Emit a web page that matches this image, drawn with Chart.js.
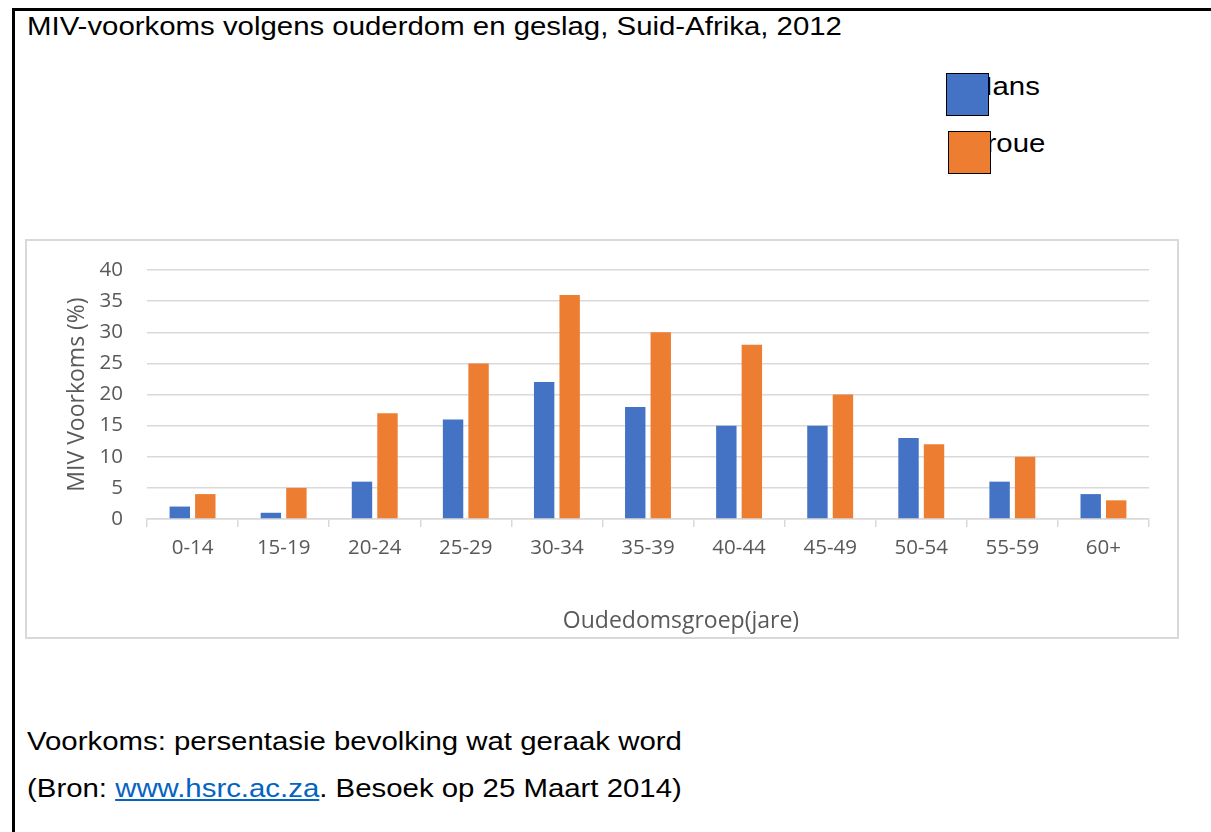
<!DOCTYPE html>
<html lang="af">
<head>
<meta charset="UTF-8">
<title>MIV-voorkoms volgens ouderdom en geslag</title>
<script src="https://cdn.jsdelivr.net/npm/chart.js"></script>
<style>
    body { margin: 0; background: #fff; font-family: "Liberation Sans", Arial, sans-serif; }
    #frame { position: absolute; left: 12px; top: 8px; width: 1300px; height: 900px;
             border-left: 3px solid #000; border-top: 3px solid #000; }
    .txt { position: absolute; font-size: 26px; color: #000; white-space: nowrap;
           transform: scaleX(1.13); transform-origin: left top; }
    .legBox { position: absolute; width: 41px; height: 41px; border: 1px solid #000; }
    #chartBox { position: absolute; left: 25px; top: 239px; width: 1150px; height: 396px;
                border: 2px solid #d9d9d9; }
    #xTitle { position: absolute; left: 0; top: 603px; width: 1362px; text-align: center;
              font-family: "Open Sans", sans-serif; font-size: 23px; color: #595959; }
    a { color: #0563c1; }
</style>
</head>
<body>
<div id="frame"></div>
<div class="txt" style="left:27px; top:11px;">MIV-voorkoms volgens ouderdom en geslag, Suid-Afrika, 2012</div>

<div class="txt" style="left:968px; top:71px;">Mans</div>
<div class="legBox" style="left:946px; top:73px; background:#4472c4;"></div>
<div class="txt" style="left:968px; top:128px;">Vroue</div>
<div class="legBox" style="left:948px; top:131px; background:#ed7d31;"></div>

<div id="chartBox"><canvas id="hivChart" width="1150" height="396"></canvas></div>
<div id="xTitle">Oudedomsgroep(jare)</div>

<div class="txt" style="left:27px; top:726px;">Voorkoms: persentasie bevolking wat geraak word</div>
<div class="txt" style="left:27px; top:773px;">(Bron: <a href="#">www.hsrc.ac.za</a>. Besoek op 25 Maart 2014)</div>

<script>
    const ageGroups = ['0-14', '15-19', '20-24', '25-29', '30-34', '35-39', '40-44', '45-49', '50-54', '55-59', '60+'];
    const mans = [2, 1, 6, 16, 22, 18, 15, 15, 13, 6, 4];
    const vroue = [4, 5, 17, 25, 36, 30, 28, 20, 12, 10, 3];
    const yTicks = [0, 5, 10, 15, 20, 25, 30, 35, 40];

    const grey = '#595959';
    const lineGrey = '#d9d9d9';

    const ctx = document.getElementById('hivChart').getContext('2d');
    new Chart(ctx, {
        type: 'bar',
        data: {
            labels: ageGroups,
            datasets: [
                { label: 'Mans', data: mans, backgroundColor: '#4472c4', categoryPercentage: 0.56, barPercentage: 0.8 },
                { label: 'Vroue', data: vroue, backgroundColor: '#ed7d31', categoryPercentage: 0.56, barPercentage: 0.8 },
            ],
        },
        options: {
            responsive: false,
            animation: false,
            layout: { padding: { left: 37, right: 28, top: 29, bottom: 0 } },
            plugins: { legend: { display: false }, tooltip: { enabled: false } },
            scales: {
                x: {
                    afterFit: (s) => { s.height = 118; },
                    grid: { drawOnChartArea: false, drawTicks: true, tickLength: 8, color: lineGrey, lineWidth: 1.5 },
                    border: { color: lineGrey, width: 1.5 },
                    ticks: { color: grey, padding: 9, font: { family: 'Open Sans', size: 20.5 } },
                },
                y: {
                    min: 0,
                    max: 40,
                    // fixed width, and no extra room above the top label
                    afterFit: (s) => { s.width = 83; s.paddingTop = 0; s.paddingBottom = 0; },
                    afterBuildTicks: (s) => { s.ticks = yTicks.map(v => ({ value: v })); },
                    grid: { drawTicks: false, color: lineGrey, lineWidth: 1.5 },
                    border: { display: false },
                    ticks: { color: grey, padding: 24, font: { family: 'Open Sans', size: 20.5 } },
                    title: { display: true, text: 'MIV Voorkoms (%)', color: grey, padding: 0,
                             font: { family: 'Open Sans', size: 23 } },
                },
            },
        },
    });
</script>
</body>
</html>
